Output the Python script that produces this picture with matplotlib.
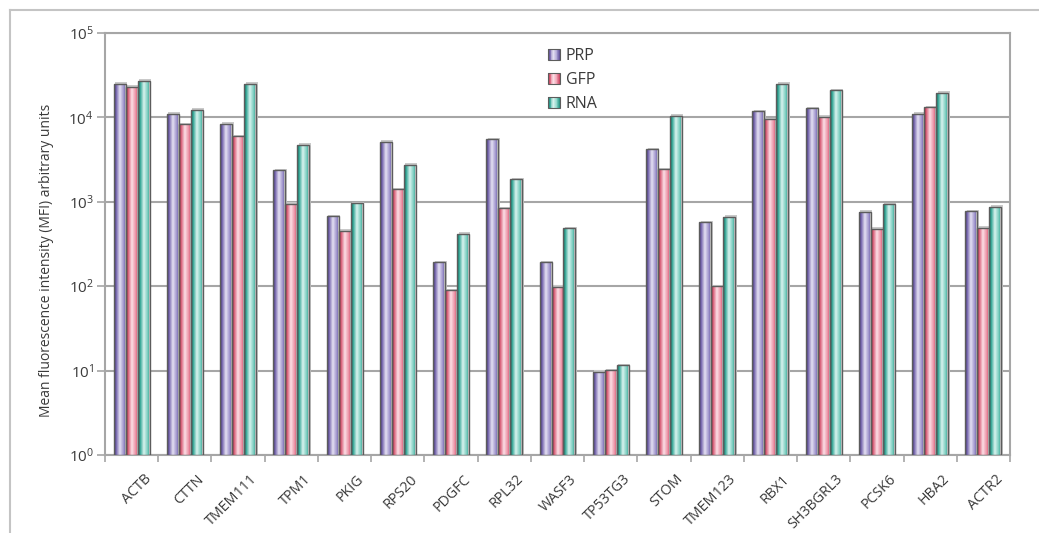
import numpy as np
import matplotlib
matplotlib.use("Agg")
import matplotlib.pyplot as plt
from matplotlib.colors import LinearSegmentedColormap
from matplotlib.lines import Line2D
from matplotlib.patches import Rectangle
from matplotlib.legend_handler import HandlerBase
from matplotlib.ticker import FixedLocator, FuncFormatter, NullFormatter
from matplotlib.transforms import ScaledTranslation, offset_copy

# --- data ---
genes = ["ACTB", "CTTN", "TMEM111", "TPM1", "PKIG", "RPS20", "PDGFC", "RPL32", "WASF3",
         "TP53TG3", "STOM", "TMEM123", "RBX1", "SH3BGRL3", "PCSK6", "HBA2", "ACTR2"]
prp = [25100, 11100, 8400, 2350, 670, 5130, 191, 5520, 191,
       9.7, 4200, 573, 11900, 12800, 760, 11100, 775]
gfp = [23100, 8300, 6000, 946, 456, 1400, 90, 841, 98,
       10.1, 2420, 100, 9560, 10150, 478, 13200, 490]
rna = [27200, 12400, 25100, 4730, 955, 2735, 419, 1840, 486,
       11.6, 10450, 664, 25000, 21000, 937, 19500, 873]
series_names = ["PRP", "GFP", "RNA"]

# cylinder-like shading per series: dark edge -> light -> mid -> dark
grad_colors = {
    "PRP": ["#4a3b7e", "#7a6bb0", "#e4e0f2", "#9a8fca", "#5a4a92"],
    "GFP": ["#b0283f", "#d9627b", "#fcdfe6", "#ea8ba0", "#c43f5a"],
    "RNA": ["#12766a", "#3aa999", "#d9f3ee", "#72c9bb", "#1e8c7c"],
}
stops = [0.0, 0.15, 0.45, 0.8, 1.0]
cmaps = {k: LinearSegmentedColormap.from_list(k, list(zip(stops, v))) for k, v in grad_colors.items()}

plt.rcParams['font.family'] = ['Open Sans', 'DejaVu Sans']
plt.rcParams['mathtext.fontset'] = 'custom'
plt.rcParams['mathtext.rm'] = 'Open Sans'
text_col = "#3a3a3a"
line_col = "#a6a6a6"

fig = plt.figure(figsize=(10.39, 5.33), dpi=100)
ax = fig.add_axes([105/1039, 78/533, 905/1039, 422/533])
ax.set_yscale('log')

x = np.arange(len(genes))
w = 0.225
grad = np.linspace(0, 1, 64).reshape(1, -1)
shadow_tr = offset_copy(ax.transData, fig=fig, x=1.5, y=1.5, units='dots')

for i, (name, vals) in enumerate(zip(series_names, [prp, gfp, rna])):
    pos = x + (i - 1) * w
    bars = ax.bar(pos, np.array(vals) - 1, width=w, bottom=1, facecolor='none',
                  edgecolor='#5c5c5c', linewidth=1.0, zorder=4)
    for b, v in zip(bars, vals):
        x0 = b.get_x()
        ax.add_patch(Rectangle((x0, 1), w, v - 1, transform=shadow_tr,
                               facecolor='#c9c9c9', edgecolor='none', zorder=2))
        im = ax.imshow(grad, cmap=cmaps[name], extent=(x0, x0 + w, 1, v),
                       aspect='auto', interpolation='bilinear', zorder=3)
        im.set_clip_path(b)

ax.set_xlim(-0.5, len(genes) - 0.5)
ax.set_ylim(1, 1e5)

# y axis
ax.yaxis.set_major_locator(FixedLocator([1, 10, 100, 1e3, 1e4, 1e5]))
ax.yaxis.set_minor_locator(FixedLocator([]))
ax.yaxis.set_major_formatter(FuncFormatter(lambda v, p: r'$\mathregular{10^{%d}}$' % round(np.log10(v))))
ax.tick_params(axis='y', which='major', length=6, width=1.2, color=line_col,
               labelsize=11, labelcolor=text_col, pad=2)
ax.yaxis.grid(True, color=line_col, linewidth=1.5, zorder=0)
ax.set_axisbelow(True)
ax.set_ylabel("Mean fluorescence intensity (MFI) arbitrary units", fontsize=10,
              color=text_col)
ax.yaxis.set_label_coords((54 - 105) / 905, (455 - 260) / 422)

# x axis: tick marks between groups, labels centred
ax.set_xticks(x)
ax.set_xticklabels(genes, rotation=45, ha='right', rotation_mode='anchor',
                   fontsize=10.3, color=text_col)
ax.xaxis.set_minor_locator(FixedLocator(np.arange(-0.5, len(genes), 1.0)))
ax.xaxis.set_minor_formatter(NullFormatter())
ax.tick_params(axis='x', which='major', length=0, pad=12)
ax.tick_params(axis='x', which='minor', length=5, width=1.2, color=line_col)
for lab in ax.get_xticklabels():
    lab.set_transform(lab.get_transform() + ScaledTranslation(0.12, 0, fig.dpi_scale_trans))

for sp in ax.spines.values():
    sp.set_color(line_col)
    sp.set_linewidth(1.5)


# legend with shaded squares
class GradHandler(HandlerBase):
    def __init__(self, cmap):
        super().__init__()
        self.cmap = cmap

    def create_artists(self, legend, orig_handle, xdescent, ydescent, width, height, fontsize, trans):
        n = 14
        arts = []
        for k in range(n):
            arts.append(Rectangle((-xdescent + k * width / n, -ydescent), width / n * 1.05, height,
                                  facecolor=self.cmap((k + 0.5) / n), edgecolor='none', transform=trans))
        arts.append(Rectangle((-xdescent, -ydescent), width, height, facecolor='none',
                              edgecolor='#5c5c5c', linewidth=0.8, transform=trans))
        return arts


handles = [Rectangle((0, 0), 1, 1, label=n) for n in series_names]
hmap = {h: GradHandler(cmaps[n]) for h, n in zip(handles, series_names)}
ax.legend(handles=handles, handler_map=hmap, loc='upper left',
          bbox_to_anchor=((548 - 105) / 905, (455 - 48) / 422), frameon=False,
          fontsize=11.5, handlelength=0.75, handleheight=0.75, handletextpad=0.35,
          labelspacing=0.5, borderpad=0, borderaxespad=0, labelcolor=text_col)

# outer frame lines
fig.add_artist(Line2D([10 / 1039, 10 / 1039], [0, 1 - 10 / 533], transform=fig.transFigure,
                      color='#c4c4c4', linewidth=1.5))
fig.add_artist(Line2D([10 / 1039, 1], [1 - 10 / 533, 1 - 10 / 533], transform=fig.transFigure,
                      color='#c4c4c4', linewidth=1.5))

fig.savefig("out.png", dpi=100)
